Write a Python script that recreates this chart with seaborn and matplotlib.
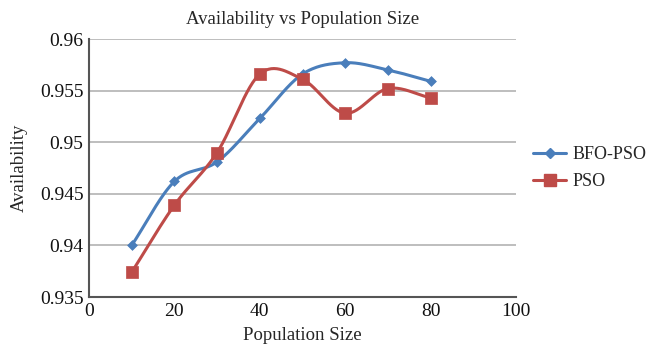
import numpy as np
import pandas as pd
import matplotlib
matplotlib.use("Agg")
import matplotlib.pyplot as plt
from matplotlib.lines import Line2D
import seaborn as sns

population = [10, 20, 30, 40, 50, 60, 70, 80]
bfo_pso = [0.9400, 0.9462, 0.9481, 0.9523, 0.9566, 0.9577, 0.9570, 0.9559]
pso = [0.9374, 0.9439, 0.9490, 0.9566, 0.9561, 0.9528, 0.9552, 0.9543]
series_names = ["BFO-PSO", "PSO"]
colors = ["#4A7EBB", "#BE4B48"]
markers = ["D", "s"]
marker_sizes = [5, 8]


def smooth(xs, ys, n=30):
    """Catmull-Rom style smoothing between consecutive points."""
    xs = np.asarray(xs, float)
    ys = np.asarray(ys, float)
    px = np.concatenate([[2 * xs[0] - xs[1]], xs, [2 * xs[-1] - xs[-2]]])
    py = np.concatenate([[2 * ys[0] - ys[1]], ys, [2 * ys[-1] - ys[-2]]])
    out_x, out_y = [], []
    for i in range(1, len(px) - 2):
        t = np.linspace(0, 1, n, endpoint=False)
        for p, out in ((px, out_x), (py, out_y)):
            p0, p1, p2, p3 = p[i - 1], p[i], p[i + 1], p[i + 2]
            out.extend(0.5 * ((2 * p1) + (-p0 + p2) * t
                              + (2 * p0 - 5 * p1 + 4 * p2 - p3) * t ** 2
                              + (-p0 + 3 * p1 - 3 * p2 + p3) * t ** 3))
    out_x.append(xs[-1])
    out_y.append(ys[-1])
    return np.array(out_x), np.array(out_y)


sns.set_theme(style="white")
plt.rcParams["font.family"] = ["Liberation Serif", "DejaVu Serif"]

fig = plt.figure(figsize=(6.51, 3.46), dpi=100)
ax = fig.add_axes([89 / 651, 1 - 297 / 346, (516 - 89) / 651, (297 - 39) / 346])

for name, vals, c, m, ms in zip(series_names, [bfo_pso, pso], colors, markers, marker_sizes):
    sx, sy = smooth(population, vals)
    curve = pd.DataFrame({"x": sx, "y": sy})
    sns.lineplot(data=curve, x="x", y="y", ax=ax, color=c, lw=2.2, sort=False,
                 estimator=None, zorder=3)
    pts = pd.DataFrame({"x": population, "y": vals})
    sns.scatterplot(data=pts, x="x", y="y", ax=ax, color=c, marker=m, s=ms ** 2,
                    edgecolor=c, linewidth=0.5, zorder=4)

ax.set_xlim(0, 100)
ax.set_ylim(0.935, 0.96)
ax.set_xticks([0, 20, 40, 60, 80, 100])
ax.set_yticks([0.935, 0.94, 0.945, 0.95, 0.955, 0.96])
ax.set_yticklabels(["0.935", "0.94", "0.945", "0.95", "0.955", "0.96"])
ax.yaxis.grid(True, color="#b3b3b3", lw=1.2)
ax.set_axisbelow(True)
for s in ["top", "right"]:
    ax.spines[s].set_visible(False)
for s in ["left", "bottom"]:
    ax.spines[s].set_color("#555555")
    ax.spines[s].set_linewidth(1.5)
ax.tick_params(axis="both", labelsize=14, colors="#111111", length=0, pad=4)

ax.set_title("Availability vs Population Size", fontsize=13.5, pad=11)
ax.set_xlabel("Population Size", fontsize=13.5, labelpad=5)
ax.set_ylabel("Availability", fontsize=13.5, labelpad=9)

handles = [Line2D([0], [0], color=c, lw=2.2, marker=m, markersize=ms, markeredgecolor=c)
           for c, m, ms in zip(colors, markers, marker_sizes)]
fig.legend(handles, series_names, loc="upper left", bbox_to_anchor=(533 / 651, 1 - 146 / 346),
           frameon=False, fontsize=13, handlelength=1.85, handletextpad=0.35,
           labelspacing=0.55, borderpad=0, borderaxespad=0)

fig.savefig("out.png", dpi=100)
